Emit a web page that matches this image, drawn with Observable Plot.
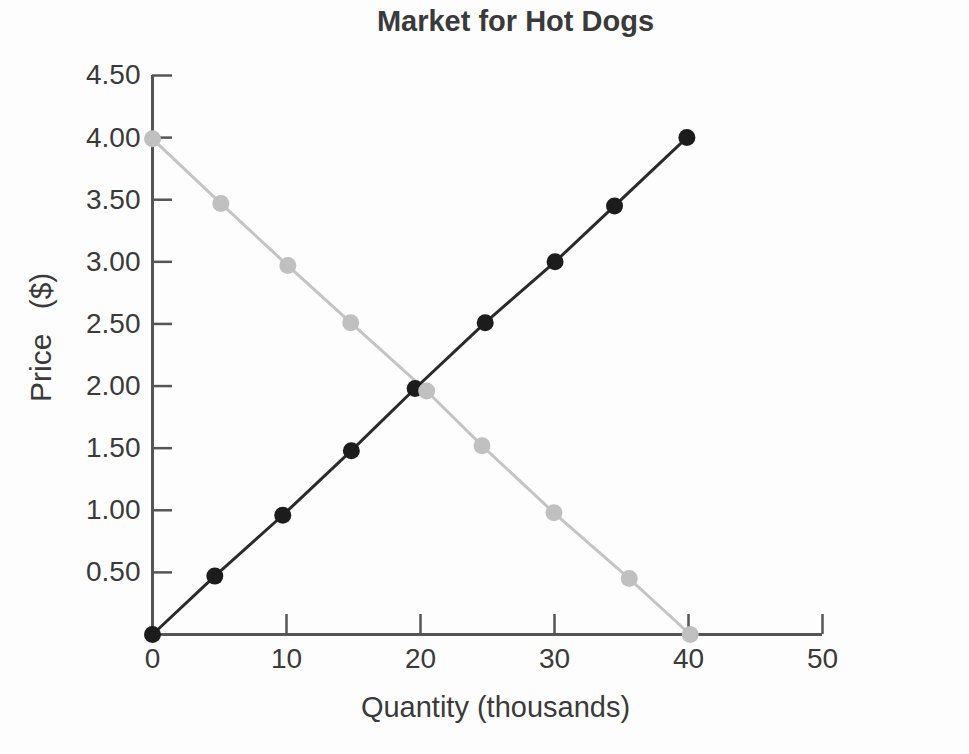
<!DOCTYPE html>
<html>
<head>
<meta charset="utf-8">
<script src="https://cdn.jsdelivr.net/npm/d3@7"></script>
<script src="https://cdn.jsdelivr.net/npm/@observablehq/plot@0.6"></script>
<style>
  html, body { margin: 0; padding: 0; background: #fdfdfd; }
  #wrap { position: relative; width: 969px; height: 754px; font-family: "Liberation Sans", Arial, Helvetica, sans-serif; }
  #title { position: absolute; left: 31px; width: 969px; top: 7px; height: 33px; line-height: 29px; text-align: center; font-weight: bold; font-size: 29px; color: #3a3a3a; }
  #chart { position: absolute; left: 0; top: 40px; }
</style>
</head>
<body>
<div id="wrap">
  <div id="title"></div>
  <div id="chart"></div>
</div>
<script>
const title = "Market for Hot Dogs";
const xLabel = "Quantity (thousands)";
const yLabel = "Price ($)";
const xTicks = [0, 10, 20, 30, 40, 50];
const yTicks = [0.5, 1.0, 1.5, 2.0, 2.5, 3.0, 3.5, 4.0, 4.5];

// Supply (black)
const supplyQ = [0, 4.65, 9.72, 14.84, 19.6, 24.83, 30.04, 34.48, 39.88];
const supplyP = [0, 0.47, 0.96, 1.48, 1.98, 2.51, 3.00, 3.45, 4.00];
// Demand (gray)
const demandQ = [0, 5.1, 10.1, 14.79, 20.46, 24.59, 29.96, 35.58, 40.13];
const demandP = [3.99, 3.47, 2.97, 2.51, 1.96, 1.52, 0.98, 0.45, 0];

const supply = supplyQ.map((q, i) => ({q, p: supplyP[i]}));
const demand = demandQ.map((q, i) => ({q, p: demandP[i]}));

document.getElementById("title").textContent = title;

const axisColor = "#555";
const chart = Plot.plot({
  width: 969,
  height: 714,
  marginLeft: 152,
  marginRight: 147,
  marginTop: 35,
  marginBottom: 120,
  x: {domain: [0, 50]},
  y: {domain: [0, 4.5]},
  style: {fontFamily: "'Liberation Sans', Arial, Helvetica, sans-serif", fontSize: "28px", color: "#3a3a3a", background: "transparent", overflow: "visible"},
  marks: [
    Plot.axisY(yTicks, {tickSize: 0, tickPadding: 12, tickFormat: d => d.toFixed(2), label: null, fontSize: 28}),
    Plot.axisX(xTicks, {tickSize: 0, tickPadding: 14, tickFormat: d => String(d), label: null, fontSize: 28}),
    Plot.tickY(yTicks, {y: d => d, stroke: axisColor, strokeWidth: 2.5, insetRight: 650}),
    Plot.tickX(xTicks.filter(d => d > 0), {x: d => d, stroke: axisColor, strokeWidth: 2.5, insetTop: 539}),
    Plot.ruleX([0], {stroke: axisColor, strokeWidth: 3}),
    Plot.ruleY([0], {stroke: axisColor, strokeWidth: 3}),
    Plot.line(demand, {x: "q", y: "p", stroke: "#c4c4c4", strokeWidth: 3}),
    Plot.line(supply, {x: "q", y: "p", stroke: "#2a2a2a", strokeWidth: 3}),
    Plot.dot(supply, {x: "q", y: "p", r: 8.5, fill: "#1c1c1c"}),
    Plot.dot(demand, {x: "q", y: "p", r: 8.5, fill: "#c0c0c0"}),
    Plot.text([yLabel], {text: d => d, frameAnchor: "left", rotate: -90, dx: -111, dy: 47, fontSize: 30, fill: "#3a3a3a"}),
    Plot.text([xLabel], {text: d => d, frameAnchor: "bottom", lineAnchor: "top", dx: 8, dy: 62, fontSize: 29, fill: "#3a3a3a"})
  ]
});
d3.select(chart).selectAll("text").filter(function() { return this.textContent === yLabel; }).style("word-spacing", "16px");
document.getElementById("chart").appendChild(chart);
</script>
</body>
</html>
